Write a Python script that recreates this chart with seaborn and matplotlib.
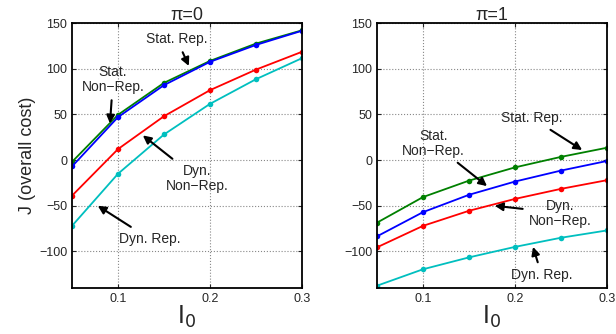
import numpy as np
import pandas as pd
import matplotlib
matplotlib.use("Agg")
import matplotlib.pyplot as plt
import seaborn as sns

# data
I0 = [0.05, 0.10, 0.15, 0.20, 0.25, 0.30]
series = ["Stat. Rep.", "Stat. Non-Rep.", "Dyn. Non-Rep.", "Dyn. Rep."]

# pi = 0
stat_rep_0 = [-2, 49.5, 84.5, 108.5, 127.5, 142]
stat_nonrep_0 = [-7, 47, 82, 107.5, 126, 141.5]
dyn_nonrep_0 = [-39, 12, 48, 76.5, 99, 118.5]
dyn_rep_0 = [-72, -15, 28, 61.5, 88.5, 111.5]

# pi = 1
stat_rep_1 = [-68.5, -40.5, -22.5, -8, 3.5, 13.5]
stat_nonrep_1 = [-83.5, -57, -38, -23.5, -11.5, -1]
dyn_nonrep_1 = [-95.5, -72, -55.5, -42.5, -31.5, -22]
dyn_rep_1 = [-137.5, -119.5, -106.5, -95, -85, -77]

colors = {"Stat. Rep.": (0, 0.5, 0), "Stat. Non-Rep.": (0, 0, 1),
          "Dyn. Non-Rep.": (1, 0, 0), "Dyn. Rep.": (0, 0.75, 0.75)}

def long_df(cols):
    rows = []
    for name, vals in zip(series, cols):
        for x, y in zip(I0, vals):
            rows.append({"I0": x, "J": y, "series": name})
    return pd.DataFrame(rows)

df0 = long_df([stat_rep_0, stat_nonrep_0, dyn_nonrep_0, dyn_rep_0])
df1 = long_df([stat_rep_1, stat_nonrep_1, dyn_nonrep_1, dyn_rep_1])

sns.set_style("white")
plt.rcParams["font.family"] = ["Liberation Sans", "DejaVu Sans"]

fig = plt.figure(figsize=(6.16, 3.34), dpi=100)
ax0 = fig.add_axes([72/616, 1-288/334, 230/616, 265/334])
ax1 = fig.add_axes([377/616, 1-288/334, 230/616, 265/334])

# annotations: (text, text xy, arrow tip xy)
notes0 = [("Stat. Rep.", (0.164, 132), (0.177, 103)),
          ("Stat.\nNon\u2212Rep.", (0.0946, 88), (0.0913, 40)),
          ("Dyn.\nNon\u2212Rep.", (0.186, -20), (0.127, 27)),
          ("Dyn. Rep.", (0.134, -86), (0.078, -50))]
notes1 = [("Stat. Rep.", (0.2185, 46), (0.273, 11)),
          ("Stat.\nNon\u2212Rep.", (0.111, 18.5), (0.1696, -28.5)),
          ("Dyn.\nNon\u2212Rep.", (0.249, -58), (0.178, -50)),
          ("Dyn. Rep.", (0.229, -126), (0.2196, -95))]

for ax, df, title, notes in [(ax0, df0, "\u03c0=0", notes0), (ax1, df1, "\u03c0=1", notes1)]:
    sns.lineplot(data=df, x="I0", y="J", hue="series", palette=colors,
                 marker="o", markersize=4, markeredgewidth=0, linewidth=1.3,
                 legend=False, ax=ax)
    ax.set_xlim(0.05, 0.3)
    ax.set_ylim(-140, 150)
    ax.set_xticks([0.1, 0.2, 0.3])
    ax.set_xticklabels(["0.1", "0.2", "0.3"])
    ax.set_yticks([-100, -50, 0, 50, 100, 150])
    ax.set_yticklabels(["\u2212100", "\u221250", "0", "50", "100", "150"])
    ax.grid(True, linestyle=":", color="#888888", linewidth=0.8)
    ax.tick_params(direction="in", length=3, labelsize=9, top=True, right=True,
                   bottom=True, left=True)
    for s in ax.spines.values():
        s.set_color("black")
        s.set_linewidth(1.3)
    ax.set_title(title, fontsize=13, pad=2)
    ax.set_xlabel("I$_0$", fontsize=18, labelpad=-1)
    ax.set_ylabel("")
    for txt, xyt, xy in notes:
        ax.annotate(txt, xy=xy, xytext=xyt, ha="center", va="center",
                    fontsize=10, linespacing=1.1,
                    arrowprops=dict(arrowstyle="-|>", color="black", lw=1.5,
                                    mutation_scale=12, shrinkA=2, shrinkB=0))

ax0.set_ylabel("J (overall cost)", fontsize=13, labelpad=2)

fig.savefig("out.png", dpi=100)
